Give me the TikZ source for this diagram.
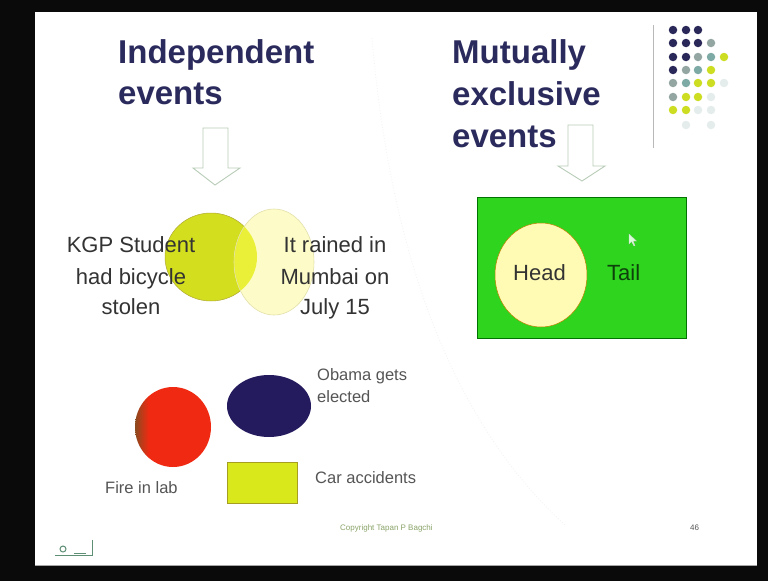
\documentclass[tikz,border=0pt]{standalone}
\usepackage{fontspec}
\setmainfont{Liberation Sans}
\definecolor{titlenavy}{HTML}{2B2A5C}
\definecolor{bodygray}{HTML}{333333}
\definecolor{lightgray}{HTML}{555555}
\definecolor{arrowline}{HTML}{B8CCB8}
\definecolor{limeA}{HTML}{D2DE1E}
\definecolor{limeB}{HTML}{D8E81A}
\definecolor{creamA}{HTML}{FDFCC8}
\definecolor{creamB}{HTML}{FFFBB4}
\definecolor{fieldgreen}{HTML}{2ED41E}
\definecolor{taildark}{HTML}{0E400C}
\definecolor{obamanavy}{HTML}{241A5E}
\definecolor{firered}{HTML}{F02A12}
\definecolor{firebrown}{HTML}{8A4A1E}
\definecolor{dotnavy}{HTML}{2A2858}
\definecolor{dotgray}{HTML}{94A6A2}
\definecolor{dotteal}{HTML}{7EAAA6}
\definecolor{dotlime}{HTML}{CCDD22}
\definecolor{dotfaint}{HTML}{E4ECEC}
\definecolor{copygreen}{HTML}{8AA468}
\definecolor{iconline}{HTML}{5E8E74}
\pgfdeclarehorizontalshading{fireshade}{100bp}{color(0bp)=(firebrown); color(25bp)=(firebrown); color(34bp)=(firered); color(100bp)=(firered)}
\begin{document}
\begin{tikzpicture}[x=1pt,y=-1pt,
  titletext/.style={anchor=base west,inner sep=0pt,text=titlenavy,font=\fontsize{33}{38}\selectfont\bfseries},
  venntext/.style={anchor=base,inner sep=0pt,text=bodygray,font=\fontsize{22}{26}\selectfont},
  smalltext/.style={anchor=base west,inner sep=0pt,text=lightgray,font=\fontsize{16.5}{19}\selectfont},
  hollowarrow/.style={draw=arrowline,line width=0.9pt,fill=white,line join=miter},
  gdot/.style={circle,inner sep=0pt,minimum size=8.5pt}]
\useasboundingbox (0,0) rectangle (768,581);
% screen and slide
\fill[black!96] (0,0) rectangle (768,581);
\fill[white] (35,12) rectangle (757,566);
\draw[gray!70,line width=1.2pt] (35,565.5) -- (757,565.5);

% faint dotted guide
\draw[gray!10,dotted,line width=0.8pt] (372,38) .. controls (390,250) and (450,420) .. (565,525);

% decorative dot grid with rule
\draw[gray!55,line width=1pt] (653,25) -- (653,148);
\foreach \cx/\cy/\cc [count=\i] in {
  673/30/dotnavy,686/30/dotnavy,698/30/dotnavy,
  673/43/dotnavy,686/43/dotnavy,698/43/dotnavy,711/43/dotgray,
  673/57/dotnavy,686/57/dotnavy,698/57/dotgray,711/57/dotteal,724/57/dotlime,
  673/70/dotnavy,686/70/dotgray,698/70/dotteal,711/70/dotlime,
  673/83/dotgray,686/83/dotteal,698/83/dotlime,711/83/dotlime,724/83/dotfaint,
  673/97/dotgray,686/97/dotlime,698/97/dotlime,711/97/dotfaint,
  673/110/dotlime,686/110/dotlime,698/110/dotfaint,711/110/dotfaint,
  686/125/dotfaint,711/125/dotfaint}
  \node[gdot,fill=\cc] (dot\i) at (\cx,\cy) {};

% titles
\node[titletext] (indep1) at (118,63) {Independent};
\node[titletext] (indep2) at (118,104) {events};
\node[titletext] (mutex1) at (452,63) {Mutually};
\node[titletext] (mutex2) at (452,105) {exclusive};
\node[titletext] (mutex3) at (452,147) {events};

% hollow down arrows
\draw[hollowarrow] (203,128) -- (228,128) -- (228,168) -- (240,168) -- (215,185)
  -- (193,168) -- (203,168) -- cycle;
\draw[hollowarrow] (568,125) -- (593,125) -- (593,166) -- (605,166) -- (582,181)
  -- (558,166) -- (568,166) -- cycle;

% independent events: overlapping sets
\fill[limeA] (211,257) ellipse [x radius=46, y radius=44];
\draw[olive!70,line width=0.5pt] (211,257) ellipse [x radius=46, y radius=44];
\begin{scope}
  \clip (274,262) ellipse [x radius=40, y radius=53];
  \fill[creamA] (0,0) rectangle (768,581);
  \fill[limeA!55!yellow!90!white,opacity=0.9] (211,257) ellipse [x radius=46, y radius=44];
\end{scope}
\draw[olive!25,line width=0.6pt] (274,262) ellipse [x radius=40, y radius=53];

\node[venntext] (kgp1) at (131,252) {KGP Student};
\node[venntext] (kgp2) at (131,284) {had bicycle};
\node[venntext] (kgp3) at (131,314) {stolen};
\node[venntext] (rain1) at (335,252) {It rained in};
\node[venntext] (rain2) at (335,284) {Mumbai on};
\node[venntext] (rain3) at (335,314) {July 15};

% further independent events
\shade[shading=fireshade] (173,427) ellipse [x radius=38, y radius=40];
\fill[obamanavy] (269,406) ellipse [x radius=42, y radius=31];
\node[draw=olive!80,line width=0.6pt,fill=limeB,minimum width=70pt,minimum height=41pt,inner sep=0pt] (carbox) at (262,482.5) {};
\node[smalltext] (obama1) at (317,380) {Obama gets};
\node[smalltext] (obama2) at (317,402) {elected};
\node[smalltext] (caracc) at (315,483) {Car accidents};
\node[smalltext] (fire) at (105,493) {Fire in lab};

% mutually exclusive events
\node[draw=green!45!black,line width=0.6pt,fill=fieldgreen,minimum width=209pt,minimum height=141pt,inner sep=0pt] (field) at (581.5,267.5) {};
\fill[creamB] (541,275) ellipse [x radius=46, y radius=52];
\draw[orange!50!olive,line width=0.5pt] (541,275) ellipse [x radius=46, y radius=52];
\node[anchor=base west,inner sep=0pt,text=bodygray,font=\fontsize{22}{26}\selectfont] (head) at (513,280) {Head};
\node[anchor=base west,inner sep=0pt,text=taildark,font=\fontsize{22}{26}\selectfont] (tail) at (607,280) {Tail};
% mouse pointer
\fill[white!85!green,draw=gray!40,line width=0.3pt] (629,234) -- (629,244) -- (631.5,241.5) -- (634,246) -- (635,245.5) -- (633,241) -- (636.5,241) -- cycle;

% footer
\node[anchor=base west,inner sep=0pt,text=copygreen,font=\fontsize{8}{9}\selectfont] (copy) at (340,530) {Copyright Tapan P Bagchi};
\node[anchor=base west,inner sep=0pt,text=lightgray,font=\fontsize{8}{9}\selectfont] (page) at (690,530) {46};

% navigation icon
\draw[iconline,line width=1pt] (63,549) circle (3);
\draw[iconline,line width=1.2pt] (55,555.5) -- (93,555.5);
\draw[iconline,line width=1pt] (92,540) -- (92,555);
\draw[iconline,line width=0.8pt] (74,553) -- (86,553);
\end{tikzpicture}
\end{document}
